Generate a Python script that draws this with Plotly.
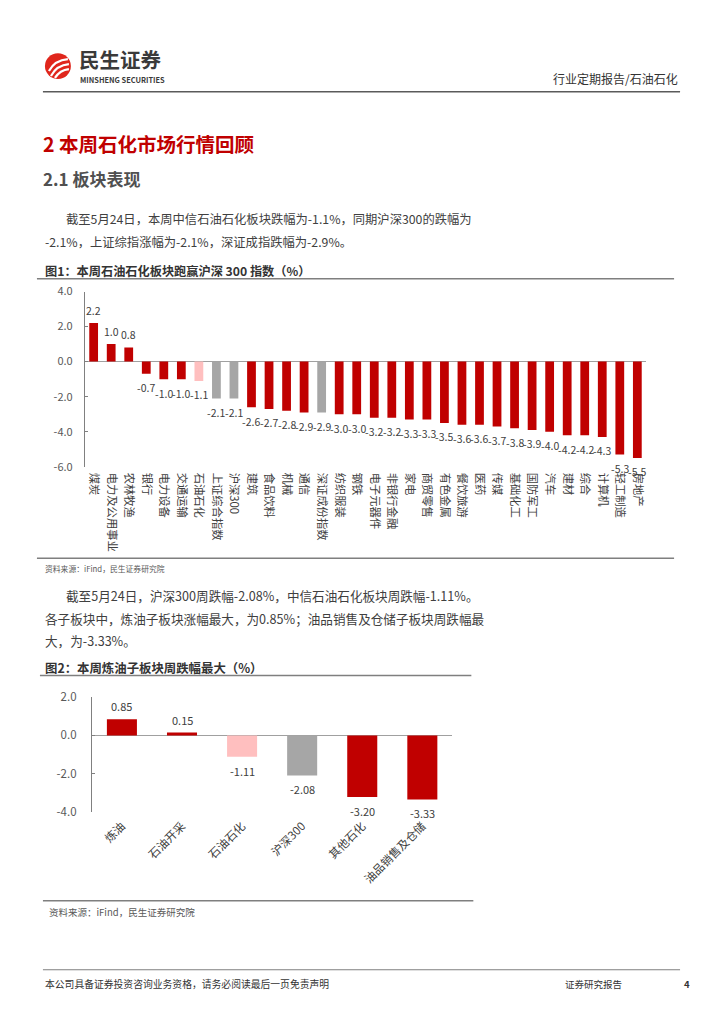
import plotly.graph_objects as go

# ---------------- data ----------------
cats1 = ["煤炭", "电力及公用事业", "农林牧渔", "银行", "电力设备", "交通运输", "石油石化",
         "上证综合指数", "沪深300", "建筑", "食品饮料", "机械", "通信", "深证成份指数",
         "纺织服装", "钢铁", "电子元器件", "非银行金融", "家电", "商贸零售", "有色金属",
         "餐饮旅游", "医药", "传媒", "基础化工", "国防军工", "汽车", "建材", "综合",
         "计算机", "轻工制造", "房地产"]
vals1 = [2.2, 1.0, 0.8, -0.7, -1.0, -1.0, -1.1,
         -2.1, -2.1, -2.6, -2.7, -2.8, -2.9, -2.9,
         -3.0, -3.0, -3.2, -3.2, -3.3, -3.3, -3.5,
         -3.6, -3.6, -3.7, -3.8, -3.9, -4.0, -4.2, -4.2,
         -4.3, -5.3, -5.5]

cats2 = ["炼油", "石油开采", "石油石化", "沪深300", "其他石化", "油品销售及仓储"]
vals2 = [0.85, 0.15, -1.11, -2.08, -3.20, -3.33]

y1_ticks = [4.0, 2.0, 0.0, -2.0, -4.0, -6.0]
y2_ticks = [2.0, 0.0, -2.0, -4.0]

# ---------------- style ----------------
RED = "#C00000"
PINK = "#FFBFBF"
GRAY = "#A6A6A6"
TXT = "#404040"
CJK = "Noto Sans CJK SC"
W, H = 724, 1024

index_cats = {"上证综合指数", "沪深300", "深证成份指数"}
focus_cats = {"石油石化"}


def bar_colors(cats):
    out = []
    for c in cats:
        if c in focus_cats:
            out.append(PINK)
        elif c in index_cats:
            out.append(GRAY)
        else:
            out.append(RED)
    return out


def px(x):
    return x / W


def py(y):
    return 1 - y / H


fig = go.Figure()

fig.add_trace(go.Bar(x=cats1, y=vals1, marker=dict(color=bar_colors(cats1), line=dict(width=0)),
                     width=0.5, xaxis="x", yaxis="y", hoverinfo="skip"))
fig.add_trace(go.Bar(x=cats2, y=vals2, marker=dict(color=bar_colors(cats2), line=dict(width=0)),
                     width=0.5, xaxis="x2", yaxis="y2", hoverinfo="skip"))

annotations = []

# value labels
for c, v in zip(cats1, vals1):
    annotations.append(dict(x=c, y=v, xref="x", yref="y", text=f"{v:.1f}", showarrow=False,
                            yshift=13 if v >= 0 else -14,
                            font=dict(family=CJK, size=10.5, color=TXT)))
for c, v in zip(cats2, vals2):
    annotations.append(dict(x=c, y=v, xref="x2", yref="y2", text=f"{v:.2f}", showarrow=False,
                            yshift=13 if v >= 0 else -14,
                            font=dict(family=CJK, size=11, color=TXT)))


def txt(x, y, s, size, color=TXT, anchor="left", bold=False, pad=1):
    annotations.append(dict(x=px(x), y=py(y), xref="paper", yref="paper",
                            text=f"<b>{s}</b>" if bold else s, showarrow=False,
                            xanchor=anchor, yanchor="middle", borderpad=pad,
                            font=dict(family=CJK, size=size, color=color)))


# header
txt(78, 51, "民生证券", 20.5, "#3A3A3A", bold=True, pad=0)
txt(79, 71.5, "MINSHENG SECURITIES", 7.4, "#3A3A3A", bold=True, pad=0)
txt(681, 71, "行业定期报告/石油石化", 12, "#333333", anchor="right")

# headings and body text
txt(41, 137, "2 本周石化市场行情回顾", 19.5, RED, bold=True)
txt(41, 172, "2.1 板块表现", 17, "#505050", bold=True)
txt(64, 213, "截至5月24日，本周中信石油石化板块跌幅为-1.1%，同期沪深300的跌幅为", 12.3)
txt(43, 237, "-2.1%，上证综指涨幅为-2.1%，深证成指跌幅为-2.9%。", 12.3)
txt(43, 266, "图1：本周石油石化板块跑赢沪深 300 指数（%）", 12.2, "#333333", bold=True)
txt(43, 568, "资料来源：iFind，民生证券研究院", 7.8, "#595959")
txt(64, 596, "截至5月24日，沪深300周跌幅-2.08%，中信石油石化板块周跌幅-1.11%。", 12.6)
txt(43, 619, "各子板块中，炼油子板块涨幅最大，为0.85%；油品销售及仓储子板块周跌幅最", 12.6)
txt(43, 642, "大，为-3.33%。", 12.6)
txt(43, 669, "图2：本周炼油子板块周跌幅最大（%）", 12.4, "#333333", bold=True)
txt(47, 917, "资料来源：iFind，民生证券研究院", 9.5, "#595959")

# footer
txt(43, 990, "本公司具备证券投资咨询业务资格，请务必阅读最后一页免责声明", 9.8, "#333333")
txt(564, 990, "证券研究报告", 9.5, "#333333")
txt(683, 990, "<b>4</b>", 9.5, "#333333")

shapes = []


def hline(x0, x1, y, color="#6E6E6E", w=1.5):
    shapes.append(dict(type="line", xref="paper", yref="paper", x0=px(x0), x1=px(x1),
                       y0=py(y), y1=py(y), line=dict(color=color, width=w)))


hline(43, 681, 84, "#5A5A5A", 1.5)
hline(37, 675, 274, "#7F7F7F", 1.5)
hline(37, 675, 558, "#7F7F7F", 1.5)
hline(40, 472, 677, "#7F7F7F", 1.5)
hline(43, 474, 906, "#7F7F7F", 1.5)
hline(43, 681, 976, "#7F7F7F", 1)

# logo: red circle with white swooshes
shapes.append(dict(type="circle", xref="paper", yref="paper",
                   x0=px(45), x1=px(71), y0=py(71), y1=py(45),
                   fillcolor="#E0261C", line=dict(width=0)))


def P(x, y):
    return f"{px(x):.5f},{py(y):.5f}"


for (a, b, c) in [((49, 63), (55, 52), (68, 51)),
                  ((51, 68), (57, 57), (69, 56)),
                  ((55, 70), (60, 62), (69, 61))]:
    shapes.append(dict(type="path", xref="paper", yref="paper",
                       path=f"M{P(*a)} Q{P(*b)} {P(*c)}",
                       line=dict(color="white", width=2.2)))

axis_common = dict(showgrid=False, fixedrange=True)

fig.update_layout(
    width=W, height=H,
    margin=dict(l=0, r=0, t=0, b=0),
    paper_bgcolor="white", plot_bgcolor="white",
    showlegend=False, bargap=0.5,
    annotations=annotations, shapes=shapes,
    xaxis=dict(domain=[px(85), px(647)], anchor="y", range=[-0.5, len(cats1) - 0.5],
               tickangle=90, ticks="", showline=False, ticklabelstandoff=5,
               tickfont=dict(family=CJK, size=11.3, color=TXT), **axis_common),
    yaxis=dict(domain=[py(465), py(287)], anchor="x", range=[-6, 4],
               tickvals=y1_ticks, ticktext=[f"{t:.1f}" for t in y1_ticks],
               showline=True, linecolor="#808080", linewidth=1,
               ticks="inside", ticklen=3, tickcolor="#808080",
               zeroline=True, zerolinecolor="#A0A0A0", zerolinewidth=1.5,
               ticklabelstandoff=9,
               tickfont=dict(family=CJK, size=11, color="#595959"), **axis_common),
    xaxis2=dict(domain=[px(92), px(453)], anchor="y2", range=[-0.5, len(cats2) - 0.5],
                tickangle=-45, ticks="", showline=False, ticklabelstandoff=4,
                tickfont=dict(family=CJK, size=11.5, color=TXT), **axis_common),
    yaxis2=dict(domain=[py(816), py(699)], anchor="x2", range=[-4, 2],
                tickvals=y2_ticks, ticktext=[f"{t:.1f}" for t in y2_ticks],
                showline=True, linecolor="#808080", linewidth=1,
                ticks="inside", ticklen=3, tickcolor="#808080",
                zeroline=True, zerolinecolor="#A0A0A0", zerolinewidth=1.5,
                ticklabelstandoff=12,
                tickfont=dict(family=CJK, size=11.5, color="#595959"), **axis_common),
)

fig.write_html("out.html", config={"displayModeBar": False, "staticPlot": True},
               post_script="document.body.style.margin='0';document.body.style.padding='0';")
